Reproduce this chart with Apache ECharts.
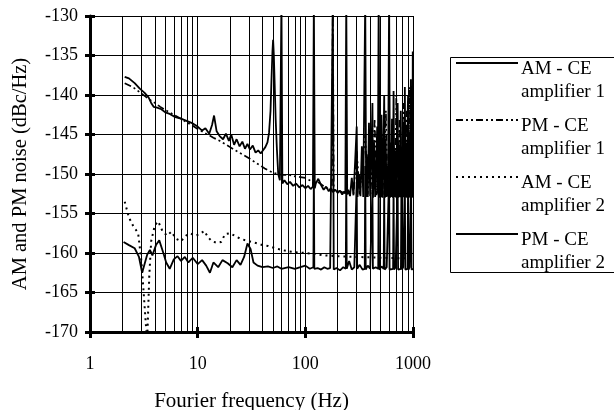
<!DOCTYPE html>
<html>
<head>
<meta charset="utf-8">
<script src="https://cdn.jsdelivr.net/npm/echarts@6/dist/echarts.min.js"></script>
<style>
html,body{margin:0;padding:0;background:#fff;}
#chart{width:614px;height:410px;}
</style>
</head>
<body>
<div id="chart"></div>
<script>
// ---- Data ----
const seriesNames = ['AM - CE amplifier 1', 'PM - CE amplifier 1', 'AM - CE amplifier 2', 'PM - CE amplifier 2'];
const xTickLabels = ['1', '10', '100', '1000'];
const minorGridFreqs = [2,3,4,5,6,7,8,9,20,30,40,50,60,70,80,90,200,300,400,500,600,700,800,900];

// AM - CE amplifier 1 (upper solid)
const am1Freq = [2.1,2.3,2.6,2.9,3.2,3.5,3.7,3.9,4.2,4.6,5.0,5.5,6.2,7.0,8.0,9.0,10.0,11.0,11.8,12.8,13.6,14.2,15.0,16.0,17.2,18.3,19.5,20.5,21.8,23.0,24.5,26.0,27.5,29.0,30.6,32.5,34.5,36.5,38.5,40.5,42.5,44.5,46.0,47.5,48.5,49.5,50.2,51.0,52.0,53.0,54.5,56.0,58.0,58.8,60.0,61.2,64,68,72,77,82,88,94,100,106,112,117.6,120,122.4,125,132,140,148,156,165,172,180,190,200,210,220,230,235.2,240,244.8,250,260,270,280,290,300,305,315,325,335,345,352.8,360,367.2,370,380,390,400,410,420,425,435,445,455,465,470.4,480,489.6,496,500,510,520,530,540,548,558,568,578,585,588,600,612,620,628,638,650,660,672,685,698,710,720,732,745,758,770,782,795,808,820,835,840,852,866,880,895,900,912,926,940,955,962,975,988,995,1000];
const am1Val  = [-137.7,-137.9,-138.5,-139.2,-139.7,-140.3,-141.0,-141.5,-141.6,-141.8,-142.2,-142.4,-142.8,-143.0,-143.3,-143.6,-144.0,-144.5,-144.2,-144.9,-143.8,-142.6,-144.6,-145.2,-145.6,-144.9,-145.8,-145.0,-146.3,-145.6,-146.5,-145.9,-146.8,-146.2,-146.9,-146.4,-147.3,-147.0,-147.4,-147.0,-146.6,-146.0,-144.8,-142.0,-138.0,-134.5,-133.0,-135.0,-139.0,-143.0,-147.0,-150.0,-150.8,-151.0,-128,-151.2,-150.8,-151.3,-151.0,-151.5,-151.2,-151.7,-151.4,-151.8,-151.5,-151.9,-151.6,-128,-151.8,-151.2,-150.6,-151.4,-152.0,-151.6,-152.2,-151.8,-152.3,-152.0,-152.4,-152.1,-152.6,-152.2,-152.5,-128,-152.6,-152.0,-152.8,-150.5,-152.7,-148.5,-144.0,-152.9,-150.0,-152.8,-146.5,-152.9,-152.8,-128,-152.9,-147.5,-152.9,-143.5,-152.8,-148.0,-141.0,-153.0,-146.0,-152.9,-149.0,-144.0,-152.5,-128,-153.0,-147.0,-152.9,-142.5,-153.0,-148.5,-140.0,-153.0,-145.5,-152.9,-149.0,-152.8,-152.7,-128,-153.0,-146.0,-152.9,-143.0,-153.0,-139.5,-152.9,-147.0,-153.0,-144.0,-141.0,-153.0,-146.5,-152.9,-142.0,-153.0,-148.0,-152.9,-143.5,-153.0,-139.0,-152.9,-146.0,-153.0,-141.5,-140.0,-152.9,-145.0,-153.0,-138.0,-152.8,-144.0,-152.9,-134.5,-152.0];

// PM - CE amplifier 1 (upper dashed)
const pm1Freq = [2.1,2.5,3.0,3.5,4.0,4.5,5.0,6.0,7.0,8.0,9.0,10.0,12.0,14.0,16.0,18.0,20.0,23.0,26.0,30.0,34.0,38.0,42.0,46.0,50.0,55.0,60.0,70,80,90,100,110,120,130,140,150,165,176.4,180,183.6,200,220,250,280,300,320,340,360,380,400,420,440,460,480,500,520,540,560,580,600,620,650,680,700,720,750,780,810,840,870,900,930,960,980,1000];
const pm1Val  = [-138.5,-139.0,-139.8,-140.5,-141.0,-141.5,-141.9,-142.5,-143.0,-143.5,-143.9,-144.3,-144.9,-145.4,-145.8,-146.2,-146.6,-147.1,-147.5,-148.0,-148.5,-148.9,-149.3,-149.6,-149.8,-150.0,-150.1,-150.1,-150.3,-150.4,-150.5,-150.8,-151.0,-151.0,-151.3,-151.6,-151.9,-152.0,-128,-152.0,-152.1,-152.3,-152.4,-152.5,-147.0,-152.6,-148.5,-145.0,-152.6,-147.0,-152.6,-143.0,-152.7,-146.0,-152.7,-145.0,-152.7,-142.0,-152.8,-146.0,-152.8,-144.0,-152.8,-140.0,-152.8,-143.0,-152.9,-141.0,-152.9,-142.0,-152.9,-139.0,-152.9,-141.0,-153.0];

// AM - CE amplifier 2 (lower dotted)
const am2Freq = [2.1,2.3,2.5,2.8,3.0,3.15,3.3,3.4,3.55,3.7,4.0,4.3,4.7,5.2,5.7,6.3,7.0,7.8,8.5,9.5,10.5,11.5,12.5,13.5,15,16.5,18,20,22,25,28,32,36,40,45,50,60,70,80,100,120,150,200,300,500,1000];
const am2Val  = [-153.5,-155.5,-156.5,-157.5,-161.0,-165.0,-169.0,-171.0,-163.0,-158.5,-156.5,-156.0,-157.2,-157.8,-157.3,-158.2,-158.5,-157.8,-157.5,-157.8,-157.6,-157.2,-158.0,-158.5,-158.7,-158.6,-157.6,-157.5,-157.8,-158.2,-158.4,-158.6,-158.8,-159.0,-159.1,-159.3,-159.6,-159.8,-159.9,-160.0,-160.1,-160.3,-160.4,-160.5,-160.6,-160.7];

// PM - CE amplifier 2 (lower solid)
const pm2Freq = [2.05,2.3,2.6,2.85,3.05,3.2,3.4,3.6,3.8,4.1,4.4,4.8,5.1,5.5,6.0,6.5,7.0,7.6,8.2,9.0,10,11,12,13,14,15.5,17,19,21,23,25,27,29,31,33,36,40,45,50,55,60,70,80,90,100,110,118.8,120,121.2,130,140,150,160,170,176.4,180,183.6,195,210,225,237.6,240,242.4,255,270,285,297,300,303,320,340,356.4,360,363.6,380,400,415.8,420,424.2,450,475.2,480,484.8,510,534.6,540,545.4,570,594,600,606,630,653.4,660,666.6,690,712.8,720,727.2,750,772.2,780,787.8,810,831.6,840,848.4,870,891,900,909,930,950.4,960,969.6,1000];
const pm2Val  = [-158.6,-159.0,-159.4,-160.5,-162.5,-161.5,-160.2,-159.6,-160.3,-159.0,-158.4,-160.0,-161.2,-162.0,-160.8,-160.4,-161.0,-160.5,-161.2,-160.6,-161.4,-160.9,-161.6,-162.5,-161.2,-161.8,-160.9,-161.3,-161.8,-160.9,-161.5,-160.5,-158.8,-159.5,-161.2,-161.6,-161.8,-161.7,-161.9,-161.7,-162.0,-161.8,-162.0,-161.8,-161.6,-162.0,-161.8,-149.5,-162.0,-161.9,-162.1,-161.8,-162.0,-161.9,-162.0,-128,-162.1,-161.9,-162.2,-161.8,-162.0,-150.0,-162.0,-161.0,-162.1,-161.8,-162.0,-151.0,-162.0,-161.5,-162.1,-162.0,-149.0,-162.1,-161.6,-162.0,-162.1,-152.0,-162.0,-161.8,-162.0,-151.0,-162.1,-161.7,-162.0,-152.0,-162.1,-161.8,-162.0,-150.0,-162.1,-161.9,-162.0,-151.0,-162.1,-161.8,-162.0,-151.0,-162.1,-161.9,-162.0,-152.0,-162.1,-161.8,-162.0,-151.0,-162.1,-161.9,-162.0,-150.0,-162.1,-161.8,-162.0,-151.0,-162.1,-162.0];

function pairs(fx, vy) { return fx.map((f, i) => [f, vy[i]]); }

const FONT = 'Liberation Serif';
const gridBox = { left: 90, top: 16, width: 323, height: 316 };

const chart = echarts.init(document.getElementById('chart'), null, { renderer: 'canvas' });

const lineBase = { type: 'line', xAxisIndex: 0, yAxisIndex: 0, symbol: 'none', showSymbol: false, clip: true, silent: true, animation: false };

chart.setOption({
  animation: false,
  backgroundColor: '#fff',
  grid: [
    Object.assign({ containLabel: false, outerBoundsMode: 'none' }, gridBox),
    Object.assign({ containLabel: false, outerBoundsMode: 'none' }, gridBox)
  ],
  xAxis: [{
    type: 'log', logBase: 10, min: 1, max: 1000, gridIndex: 0,
    name: 'Fourier frequency (Hz)', nameLocation: 'middle', nameGap: 59,
    nameTextStyle: { fontFamily: FONT, fontSize: 21, color: '#000' },
    axisLine: { show: true, lineStyle: { color: '#000', width: 3 } },
    axisTick: { show: true, length: 6, lineStyle: { color: '#000', width: 3 } },
    axisLabel: { margin: 23, fontFamily: FONT, fontSize: 18, color: '#000',
      formatter: v => { const s = String(Math.round(v)); return xTickLabels.indexOf(s) >= 0 ? s : ''; } },
    splitLine: { show: true, lineStyle: { color: '#000', width: 1 } },
    minorTick: { show: false }, minorSplitLine: { show: false }
  }, {
    type: 'log', logBase: 10, min: 1, max: 1000, gridIndex: 1,
    axisLine: { show: false },
    axisTick: { show: true, inside: true, length: 5, lineStyle: { color: '#000', width: 3 } },
    axisLabel: { show: false }, splitLine: { show: false }
  }],
  yAxis: [{
    type: 'value', min: -170, max: -130, interval: 5, gridIndex: 0,
    name: 'AM and PM noise (dBc/Hz)', nameLocation: 'middle', nameGap: 59, nameRotate: 90,
    nameTextStyle: { fontFamily: FONT, fontSize: 20.5, color: '#000' },
    axisLine: { show: true, lineStyle: { color: '#000', width: 3 } },
    axisTick: { show: true, length: 5, lineStyle: { color: '#000', width: 3 } },
    axisLabel: { margin: 12, fontFamily: FONT, fontSize: 18, color: '#000' },
    splitLine: { show: true, lineStyle: { color: '#000', width: 1 } }
  }, {
    type: 'value', min: -170, max: -130, interval: 5, gridIndex: 1,
    axisLine: { show: false },
    axisTick: { show: true, inside: true, length: 5, lineStyle: { color: '#000', width: 3 } },
    axisLabel: { show: false }, splitLine: { show: false }
  }],
  legend: [{
    // line samples
    orient: 'vertical', left: 455, top: 51.5, padding: 0,
    itemWidth: 62, itemHeight: 1, itemGap: 34,
    selectedMode: false,
    data: seriesNames,
    itemStyle: { borderWidth: 0 },
    formatter: () => ' ',
    textStyle: { color: '#000', fontFamily: FONT, fontSize: 19, lineHeight: 23 }
  }, {
    // two-line labels
    orient: 'vertical', left: 515, top: 57.5, padding: 0,
    itemWidth: 0, itemHeight: 1, itemGap: 11,
    selectedMode: false,
    data: seriesNames,
    itemStyle: { borderWidth: 0, opacity: 0 },
    lineStyle: { opacity: 0 },
    formatter: n => n.replace(' amplifier', '\namplifier'),
    textStyle: { color: '#000', fontFamily: FONT, fontSize: 19, lineHeight: 23 }
  }],
  graphic: [{
    type: 'rect', left: 448, top: 55, shape: { width: 200, height: 215 },
    style: { fill: 'none', stroke: '#000', lineWidth: 1 }, silent: true, z: 0
  }],
  series: [
    Object.assign({}, lineBase, {
      name: '__grid', data: [], z: 1,
      markLine: { silent: true, symbol: ['none', 'none'], label: { show: false },
        lineStyle: { color: '#000', width: 1, type: 'solid' }, animation: false,
        data: minorGridFreqs.map(f => ({ xAxis: f })) }
    }),
    Object.assign({}, lineBase, { name: seriesNames[0], data: pairs(am1Freq, am1Val), z: 3,
      lineStyle: { color: '#000', width: 1.8, type: 'solid' }, itemStyle: { color: '#000' } }),
    Object.assign({}, lineBase, { name: seriesNames[1], data: pairs(pm1Freq, pm1Val), z: 3,
      lineStyle: { color: '#000', width: 1.7, type: [7, 3, 2, 3, 2, 3] }, itemStyle: { color: '#000' } }),
    Object.assign({}, lineBase, { name: seriesNames[2], data: pairs(am2Freq, am2Val), z: 3,
      lineStyle: { color: '#000', width: 2, type: [2, 4] }, itemStyle: { color: '#000' } }),
    Object.assign({}, lineBase, { name: seriesNames[3], data: pairs(pm2Freq, pm2Val), z: 3,
      lineStyle: { color: '#000', width: 1.8, type: 'solid' }, itemStyle: { color: '#000' } })
  ]
});
</script>
</body>
</html>
